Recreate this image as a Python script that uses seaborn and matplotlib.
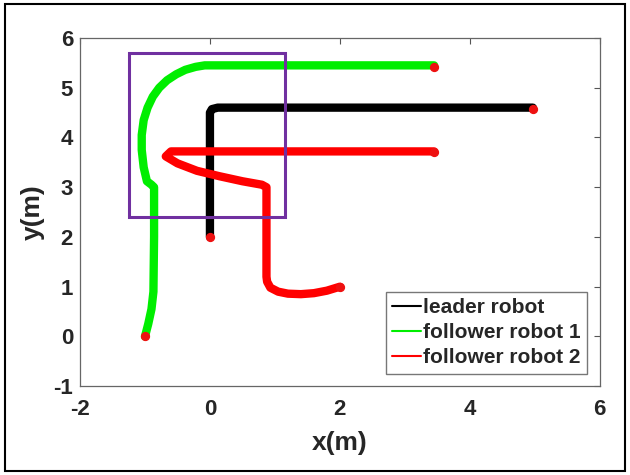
import numpy as np
import pandas as pd
import seaborn as sns
import matplotlib.pyplot as plt
from matplotlib.patches import Rectangle

# Trajectories (metres)
leader_x = [0.0, 0.0, 0.0, 0.03, 0.12, 1.0, 2.5, 4.97]
leader_y = [2.0, 3.0, 4.5, 4.57, 4.6, 4.6, 4.6, 4.6]

f1_x = [-1.0, -0.95, -0.9, -0.87, -0.86, -0.86, -0.9, -0.97, -1.02, -1.05, -1.05, -1.02,
        -0.96, -0.88, -0.78, -0.66, -0.52, -0.38, -0.22, -0.08, 0.0, 1.5, 3.45]
f1_y = [0.0, 0.25, 0.55, 0.9, 2.0, 3.0, 3.05, 3.12, 3.4, 3.75, 4.05, 4.35,
        4.6, 4.82, 5.0, 5.15, 5.27, 5.36, 5.42, 5.45, 5.45, 5.45, 5.45]

f2_x = [2.0, 1.8, 1.6, 1.4, 1.2, 1.05, 0.93, 0.88, 0.87, 0.87, 0.87, 0.8, 0.5, 0.15,
        -0.2, -0.5, -0.68, -0.6, 0.5, 2.0, 3.45]
f2_y = [1.0, 0.92, 0.87, 0.85, 0.86, 0.9, 0.98, 1.1, 1.2, 2.0, 3.0, 3.05, 3.12, 3.22,
        3.33, 3.48, 3.62, 3.72, 3.72, 3.72, 3.72]

# start / end points (red dots)
dot_x = [0.0, 4.97, -1.0, 3.45, 3.45, 2.0]
dot_y = [2.0, 4.57, 0.0, 5.42, 3.7, 1.0]

# highlighted region
box_x = [-1.25, 1.15]
box_y = [2.4, 5.7]

labels = ["leader robot", "follower robot 1", "follower robot 2"]
colors = ["black", "#00ee00", "#ff0000"]

df = pd.concat([
    pd.DataFrame({"x": leader_x, "y": leader_y, "robot": labels[0], "step": range(len(leader_x))}),
    pd.DataFrame({"x": f1_x, "y": f1_y, "robot": labels[1], "step": range(len(f1_x))}),
    pd.DataFrame({"x": f2_x, "y": f2_y, "robot": labels[2], "step": range(len(f2_x))}),
])

sns.set_style("white")
plt.rcParams["font.family"] = ["Liberation Sans", "DejaVu Sans"]
plt.rcParams["font.weight"] = "bold"
plt.rcParams["axes.unicode_minus"] = False

fig = plt.figure(figsize=(6.3, 4.75), dpi=100)
ax = fig.add_axes([0.127, 0.187, 0.825, 0.733])

sns.lineplot(data=df, x="x", y="y", hue="robot", palette=colors, sort=False,
             estimator=None, linewidth=6, solid_capstyle="round",
             solid_joinstyle="round", ax=ax)
ax.scatter(dot_x, dot_y, s=32, color="#ee1111", zorder=4)

ax.add_patch(Rectangle((box_x[0], box_y[0]), box_x[1] - box_x[0], box_y[1] - box_y[0],
                       fill=False, edgecolor="#7030a0", linewidth=2.2, zorder=5))

ax.set_xlim(-2, 6)
ax.set_ylim(-1, 6)
ax.set_xticks([-2, 0, 2, 4, 6])
ax.set_yticks(range(-1, 7))
ax.tick_params(direction="in", length=4, top=True, right=True, labelsize=16,
               color="#555555", width=0.8)
ax.tick_params(axis="x", pad=9)
ax.tick_params(axis="y", pad=5)
for lab in ax.get_xticklabels() + ax.get_yticklabels():
    lab.set_fontweight("bold")
for s in ax.spines.values():
    s.set_color("#666666")
    s.set_linewidth(0.9)

ax.set_xlabel("x(m)", fontsize=19, fontweight="bold", labelpad=8)
ax.set_ylabel("y(m)", fontsize=19, fontweight="bold", labelpad=6)

leg = ax.legend(loc="lower right", fontsize=15, frameon=True, fancybox=False,
                edgecolor="#555555", handlelength=1.4, handletextpad=0.1,
                borderpad=0.3, labelspacing=0.3, borderaxespad=0.6)
leg.get_frame().set_linewidth(1.0)
for line in leg.get_lines():
    line.set_linewidth(1.5)
for t in leg.get_texts():
    t.set_fontweight("bold")

# outer frame around the figure
fig.add_artist(Rectangle((0.008, 0.008), 0.984, 0.984, transform=fig.transFigure,
                         fill=False, edgecolor="black", linewidth=1.5))

fig.savefig("out.png", dpi=100)
